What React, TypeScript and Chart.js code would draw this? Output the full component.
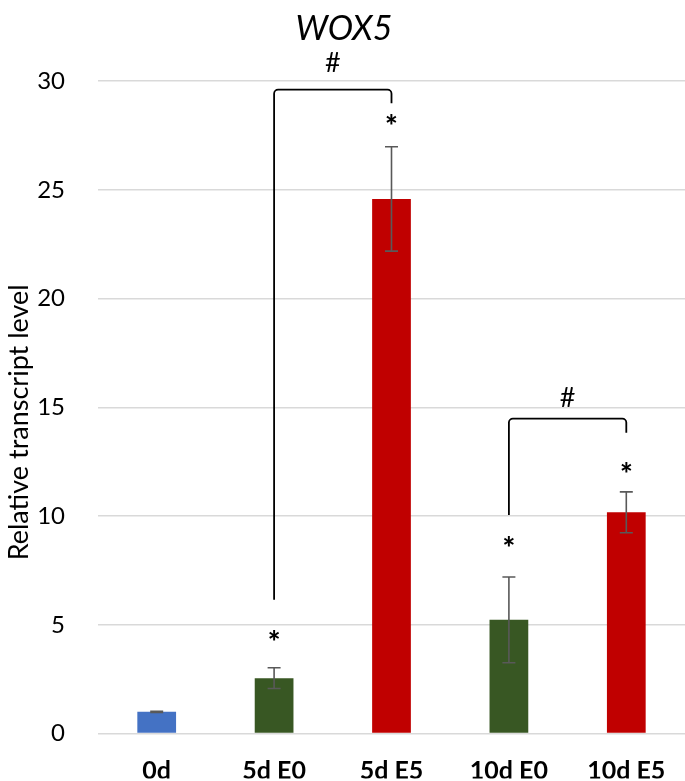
import React, { useEffect, useRef } from "react";
import { Chart, registerables } from "chart.js";

Chart.register(...registerables);

const chartTitle = "WOX5";
const yAxisTitle = "Relative transcript level";
const categories = ["0d", "5d E0", "5d E5", "10d E0", "10d E5"];
const means = [1.0, 2.55, 24.58, 5.23, 10.17];
const errors = [0.03, 0.48, 2.4, 1.97, 0.94];
const barColors = ["#4472C4", "#385723", "#C00000", "#385723", "#C00000"];
const asteriskY = [null, 4.4, 28.1, 8.7, 12.1];
const yTicks = [0, 5, 10, 15, 20, 25, 30];
// significance brackets (#)
const bracketFrom = [1, 3];
const bracketTo = [2, 4];
const bracketLeftBottom = [6.15, 10.05];
const bracketRightBottom = [28.98, 13.83];
const bracketTop = [29.6, 14.48];
const bracketLabelY = [30.8, 15.4];

const FONT = "Lato, 'DejaVu Sans', sans-serif";

const annotations = {
  id: "annotations",
  afterDatasetsDraw(chart: any) {
    const { ctx, scales } = chart;
    const x = scales.x;
    const y = scales.y;
    ctx.save();
    // error bars
    ctx.strokeStyle = "#595959";
    ctx.lineWidth = 1.6;
    means.forEach((m, i) => {
      const cx = x.getPixelForValue(i);
      const yt = y.getPixelForValue(m + errors[i]);
      const yb = y.getPixelForValue(m - errors[i]);
      ctx.beginPath();
      ctx.moveTo(cx, yt);
      ctx.lineTo(cx, yb);
      ctx.moveTo(cx - 6.5, yt);
      ctx.lineTo(cx + 6.5, yt);
      ctx.moveTo(cx - 6.5, yb);
      ctx.lineTo(cx + 6.5, yb);
      ctx.stroke();
    });
    // asterisks
    ctx.fillStyle = "#000";
    ctx.font = `900 30px ${FONT}`;
    ctx.textAlign = "center";
    ctx.textBaseline = "middle";
    asteriskY.forEach((v, i) => {
      if (v == null) return;
      ctx.fillText("*", x.getPixelForValue(i), y.getPixelForValue(v) + 5);
    });
    // brackets
    ctx.strokeStyle = "#000";
    ctx.lineWidth = 1.8;
    bracketFrom.forEach((f, k) => {
      const x1 = x.getPixelForValue(f);
      const x2 = x.getPixelForValue(bracketTo[k]);
      const yl = y.getPixelForValue(bracketLeftBottom[k]);
      const yr = y.getPixelForValue(bracketRightBottom[k]);
      const yt = y.getPixelForValue(bracketTop[k]);
      ctx.beginPath();
      ctx.moveTo(x1, yl);
      ctx.arcTo(x1, yt, x2, yt, 4);
      ctx.arcTo(x2, yt, x2, yr, 4);
      ctx.lineTo(x2, yr);
      ctx.stroke();
      ctx.font = `27px ${FONT}`;
      ctx.fillText("#", (x1 + x2) / 2, y.getPixelForValue(bracketLabelY[k]));
    });
    ctx.restore();
  },
  afterDraw(chart: any) {
    const { ctx, chartArea } = chart;
    ctx.save();
    ctx.fillStyle = "#000";
    ctx.textAlign = "center";
    ctx.textBaseline = "middle";
    ctx.font = `italic 34px ${FONT}`;
    ctx.fillText(chartTitle, 344, 29);
    ctx.translate(19, (chartArea.top + chartArea.bottom) / 2 + 15);
    ctx.rotate(-Math.PI / 2);
    ctx.font = `27px ${FONT}`;
    ctx.fillText(yAxisTitle, 0, 0);
    ctx.restore();
  },
};

export default function App() {
  const ref = useRef<HTMLCanvasElement>(null);
  useEffect(() => {
    if (!ref.current) return;
    const chart = new Chart(ref.current, {
      type: "bar",
      data: {
        labels: categories,
        datasets: [
          {
            data: means,
            backgroundColor: barColors,
            borderWidth: 0,
            barPercentage: 0.33,
            categoryPercentage: 1,
          },
        ],
      },
      options: {
        responsive: false,
        animation: false,
        layout: { padding: { top: 81, left: 0, right: 0, bottom: 0 } },
        plugins: { legend: { display: false }, title: { display: false }, tooltip: { enabled: false } },
        scales: {
          x: {
            grid: { display: false },
            border: { display: false },
            ticks: {
              color: "#000",
              padding: 17,
              font: { family: FONT, size: 25, weight: "bold", lineHeight: 1 },
            },
            afterFit: (axis: any) => {
              axis.height = 45;
            },
          },
          y: {
            min: 0,
            max: 30,
            afterBuildTicks: (axis: any) => {
              axis.ticks = yTicks.map((v) => ({ value: v }));
            },
            grid: { color: "#D9D9D9", lineWidth: 1.5, drawTicks: false },
            border: { display: false },
            ticks: {
              color: "#000",
              padding: 33,
              font: { family: FONT, size: 24 },
            },
            afterFit: (axis: any) => {
              axis.width = 98;
            },
          },
        },
      },
      plugins: [annotations],
    });
    return () => chart.destroy();
  }, []);
  return (
    <div style={{ position: "fixed", left: 0, top: 0, width: 685, height: 781, background: "#fff" }}>
      <canvas ref={ref} width={685} height={781} />
    </div>
  );
}
